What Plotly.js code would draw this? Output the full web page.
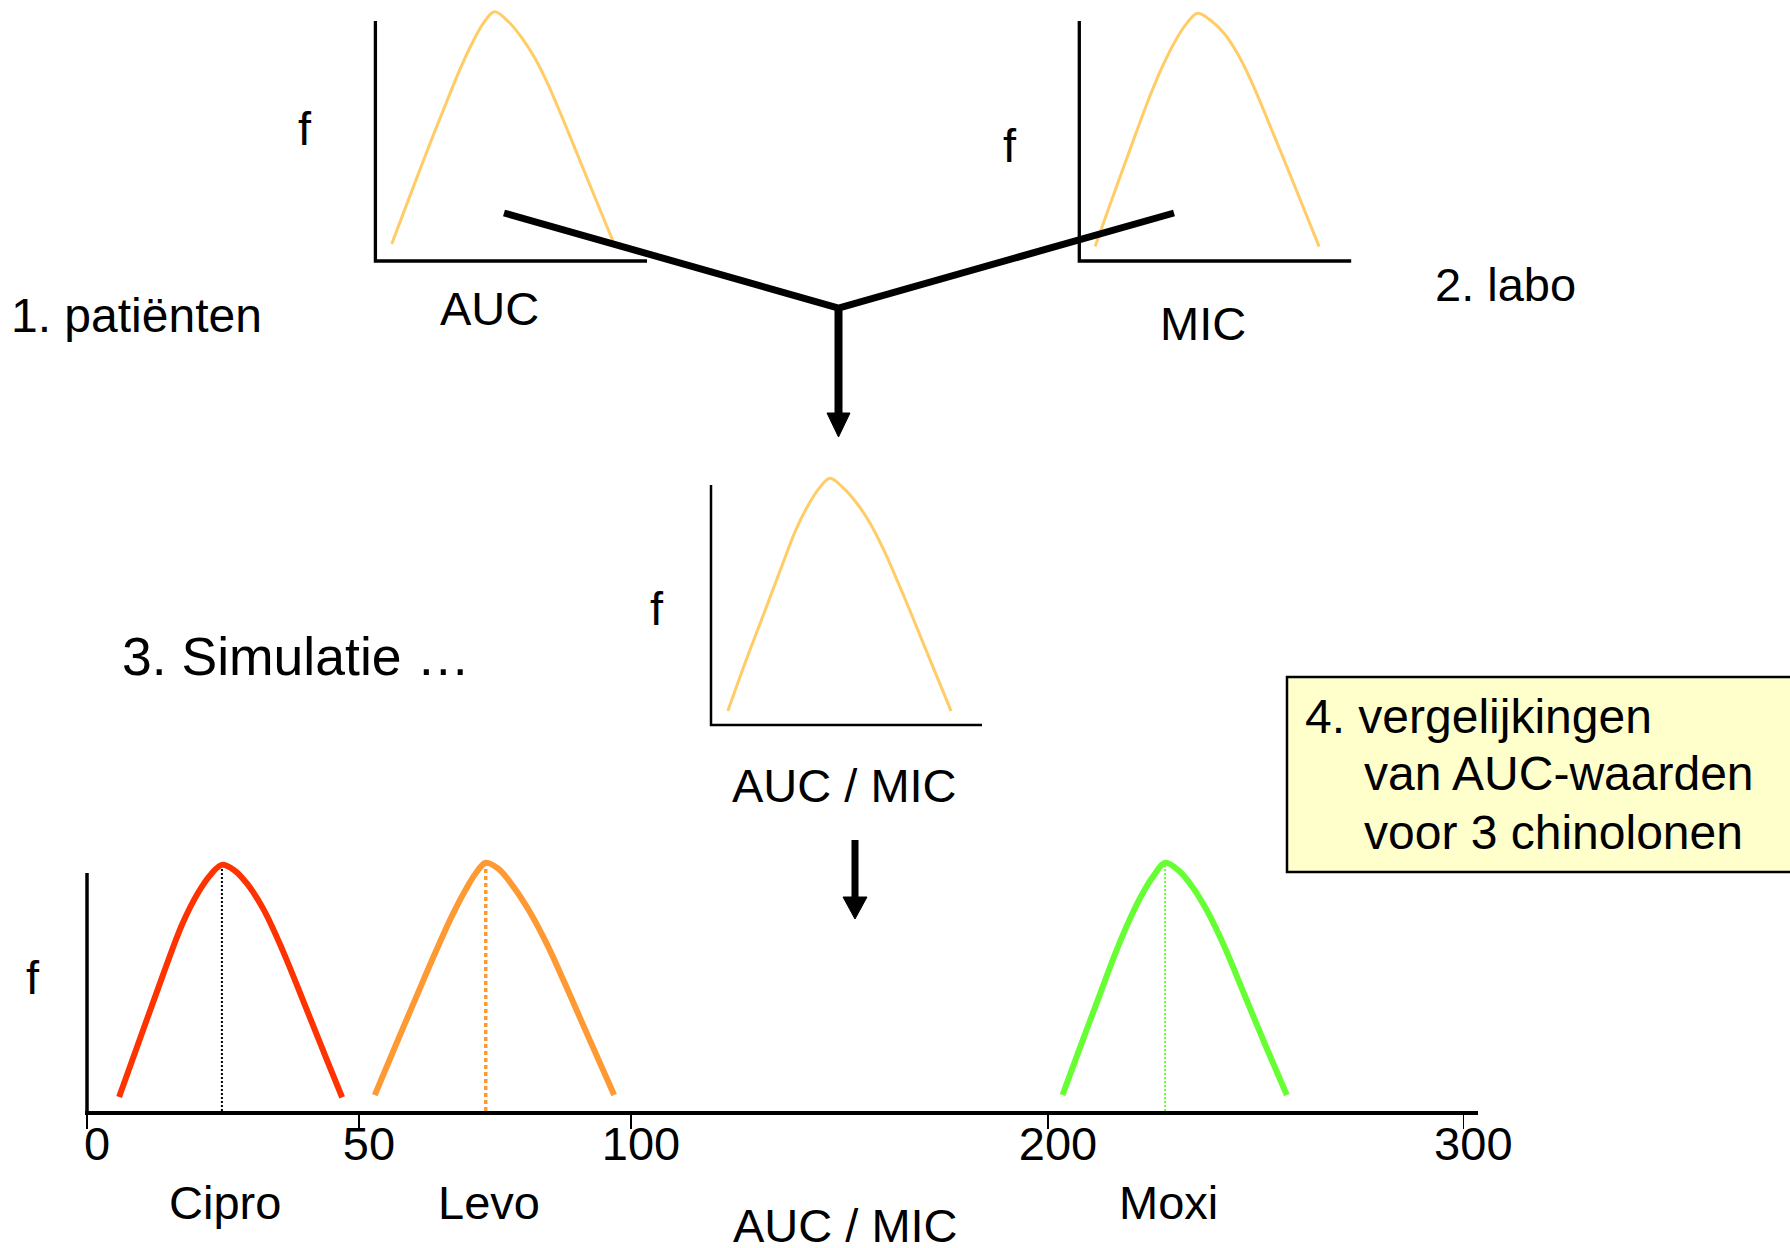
<!DOCTYPE html>
<html>
<head>
<meta charset="utf-8">
<script src="https://cdn.plot.ly/plotly-3.0.1.min.js"></script>
<style>
html,body{margin:0;padding:0;background:#ffffff;}
#chart{width:1790px;height:1248px;}
</style>
</head>
<body>
<div id="chart"></div>
<script>
// ================= DATA =================
// 1. patiënten : AUC distribution (arbitrary AUC units, f in % of axis height)
const AUC_X = [6.0, 12.5, 19.5, 26.5, 31.0, 35.5, 39.7, 43.8, 48.9, 53.8, 58.8, 63.1, 71.2, 78.7, 87.9];
const AUC_F = [7.1, 26.5, 47.2, 67.1, 79.5, 90.5, 99.0, 103.9, 99.8, 93.2, 84.4, 74.7, 53.2, 32.4, 7.1];
// 2. labo : MIC distribution
const MIC_X = [5.8, 11.9, 18.6, 25.4, 30.5, 35.5, 39.5, 43.5, 48.7, 53.6, 58.5, 63.4, 71.3, 78.8, 88.2];
const MIC_F = [6.0, 25.4, 46.3, 67.1, 80.9, 92.1, 99.0, 103.2, 99.9, 94.4, 85.8, 74.5, 53.2, 32.4, 6.0];
// 3. Simulatie : AUC/MIC distribution
const SIM_X = [6.2, 12.3, 19.3, 26.0, 31.0, 35.9, 39.9, 43.9, 48.8, 53.8, 58.7, 63.6, 71.5, 79.1, 88.6];
const SIM_F = [5.8, 25.0, 45.8, 65.8, 80.5, 91.7, 98.6, 102.8, 98.8, 92.4, 84.1, 73.3, 52.8, 31.9, 5.8];
// 4. vergelijkingen : AUC/MIC per chinolone
const DRUGS   = ['Cipro', 'Levo', 'Moxi'];
const CIPRO_X = [5.9, 10.0, 14.0, 17.5, 20.5, 22.8, 24.8, 27.0, 29.5, 32.5, 36.0, 40.0, 44.0, 46.9];
const CIPRO_F = [5.9, 32.0, 57.4, 78.5, 92.0, 99.5, 103.4, 101.3, 95.3, 84.5, 67.3, 44.8, 22.0, 5.7];
const LEVO_X  = [52.9, 57.0, 61.0, 64.5, 67.2, 69.6, 71.5, 73.3, 75.6, 78.3, 81.3, 84.5, 88.0, 92.0, 96.9];
const LEVO_F  = [6.7, 29.0, 50.5, 69.0, 82.5, 93.0, 100.0, 104.3, 101.8, 94.5, 84.0, 70.3, 52.8, 32.0, 6.7];
const MOXI_X  = [203.5, 208.0, 212.5, 216.5, 219.8, 222.8, 225.5, 228.2, 231.5, 235.0, 238.5, 242.5, 247.5, 252.5, 257.5];
const MOXI_F  = [6.7, 28.0, 49.0, 67.5, 81.0, 91.5, 99.0, 104.3, 101.0, 93.6, 83.5, 69.0, 48.0, 27.0, 6.7];
const TICK_VALUES = [0, 50, 100, 200, 300];
const TICK_LABELS = ['0', '50', '100', '200', '300'];
const BOX_LINES = ['4. vergelijkingen', 'van AUC-waarden', 'voor 3 chinolonen'];

// ================= LAYOUT / STYLE =================
const W = 1790, H = 1248;
const FONT = 'Liberation Sans, Arial, Helvetica, sans-serif';
const C_PALE = '#FFCC66';
const C_DRUG = ['#FF3300', '#FF9933', '#66FF33'];
const C_MARK = ['#000000', '#FF9933', '#66FF33'];
const MARK_DASH = ['2px,2px', '4px,3px', '2px,2px'];
const MARK_W = [2, 3.5, 2];

// broken AUC/MIC axis of the bottom panel: value -> axis position
const SCALE_V = [0, 100, 200, 300];
const SCALE_P = [0, 100, 176.65, 253.0];
function toPos(v) {
  for (let i = 0; i < SCALE_V.length - 1; i++) {
    if (v <= SCALE_V[i + 1] || i === SCALE_V.length - 2) {
      const t = (v - SCALE_V[i]) / (SCALE_V[i + 1] - SCALE_V[i]);
      return SCALE_P[i] + t * (SCALE_P[i + 1] - SCALE_P[i]);
    }
  }
}

// panel placement: origin pixel, pixels per unit, ranges
const PANELS = [
  {ox: 375.4, oy: 261, sx: 2.716, sy: 2.4, xr: [-2, 102], yr: [-2, 108], lw: 3.3},
  {ox: 1079.3, oy: 261, sx: 2.719, sy: 2.4, xr: [-2, 102], yr: [-2, 108], lw: 3.3},
  {ox: 711, oy: 725, sx: 2.71, sy: 2.4, xr: [-2, 102], yr: [-2, 108], lw: 2.5},
  {ox: 87, oy: 1111, sx: 5.44, sy: 2.38, xr: [-0.4, 255.7], yr: [0, 108], lw: 3.5}
];
function xdom(p) { return [(p.ox + p.xr[0] * p.sx) / W, (p.ox + p.xr[1] * p.sx) / W]; }
function ydom(p) { return [1 - (p.oy - p.yr[0] * p.sy) / H, 1 - (p.oy - p.yr[1] * p.sy) / H]; }
const PX = x => x / W;
const PY = y => 1 - y / H;

// ================= TRACES =================
const traces = [];
function curve(x, y, axisIdx, color, width) {
  const s = axisIdx === 1 ? '' : String(axisIdx);
  traces.push({
    type: 'scatter', mode: 'lines', x: x, y: y, xaxis: 'x' + s, yaxis: 'y' + s,
    line: {color: color, width: width, shape: 'spline', smoothing: 1},
    hoverinfo: 'skip', showlegend: false
  });
}
curve(AUC_X, AUC_F, 1, C_PALE, 3);
curve(MIC_X, MIC_F, 2, C_PALE, 3);
curve(SIM_X, SIM_F, 3, C_PALE, 3);

const DRUG_X = [CIPRO_X, LEVO_X, MOXI_X];
const DRUG_F = [CIPRO_F, LEVO_F, MOXI_F];
const peaks = [];
DRUGS.forEach((d, i) => {
  const fx = DRUG_F[i];
  const k = fx.indexOf(Math.max.apply(null, fx));
  peaks.push({x: DRUG_X[i][k], f: fx[k]});
  // median marker line
  traces.push({
    type: 'scatter', mode: 'lines', x: [toPos(DRUG_X[i][k]), toPos(DRUG_X[i][k])], y: [0, fx[k]],
    xaxis: 'x4', yaxis: 'y4', line: {color: C_MARK[i], width: MARK_W[i], dash: MARK_DASH[i]},
    hoverinfo: 'skip', showlegend: false
  });
});
DRUGS.forEach((d, i) => {
  curve(DRUG_X[i].map(toPos), DRUG_F[i], 4, C_DRUG[i], 6);
});

// ================= SHAPES =================
const shapes = [];
// axis lines of the three small panels
[1, 2, 3].forEach((n, i) => {
  const s = n === 1 ? '' : String(n);
  shapes.push({type: 'path', xref: 'x' + s, yref: 'y' + s, path: 'M 0 100 L 0 0 L 100 0',
    line: {color: '#000', width: PANELS[i].lw}, layer: 'above'});
});
// y axis line of the bottom panel
shapes.push({type: 'line', xref: 'x4', yref: 'y4', x0: 0, x1: 0, y0: 0, y1: 100,
  line: {color: '#000', width: PANELS[3].lw}});

function ppath(pts, close) {
  return pts.map((p, i) => (i ? 'L ' : 'M ') + PX(p[0]) + ' ' + PY(p[1])).join(' ') + (close ? ' Z' : '');
}
// Y-shaped connector and first arrow
shapes.push({type: 'path', xref: 'paper', yref: 'paper', path: ppath([[504, 213], [838.5, 308], [1174, 213]]),
  line: {color: '#000', width: 7}});
shapes.push({type: 'line', xref: 'paper', yref: 'paper', x0: PX(838.5), x1: PX(838.5), y0: PY(306), y1: PY(416),
  line: {color: '#000', width: 8}});
shapes.push({type: 'path', xref: 'paper', yref: 'paper', path: ppath([[827, 413], [850, 413], [838.5, 437]], true),
  fillcolor: '#000', line: {color: '#000', width: 1}});
// second arrow
shapes.push({type: 'line', xref: 'paper', yref: 'paper', x0: PX(855), x1: PX(855), y0: PY(840), y1: PY(899),
  line: {color: '#000', width: 7}});
shapes.push({type: 'path', xref: 'paper', yref: 'paper', path: ppath([[843, 897], [867, 897], [855, 919]], true),
  fillcolor: '#000', line: {color: '#000', width: 1}});
// note box
shapes.push({type: 'rect', xref: 'paper', yref: 'paper', x0: PX(1287), x1: PX(1805), y0: PY(872), y1: PY(677),
  fillcolor: '#FFFFCC', line: {color: '#000', width: 2.5}, layer: 'below'});

// ================= ANNOTATIONS =================
const ann = [];
function label(t, x, y, anchor, size) {
  ann.push({text: t, x: PX(x), y: PY(y), xref: 'paper', yref: 'paper', showarrow: false,
    xanchor: anchor || 'center', yanchor: 'middle', font: {family: FONT, size: size || 47, color: '#000'}});
}
label('f', 305, 129);
label('AUC', 489, 308);
label('1. patiënten', 9, 315.5, 'left', 48);
label('f', 1009.6, 145);
label('MIC', 1203, 324);
label('2. labo', 1433, 285, 'left');
label('f', 657, 608);
label('3. Simulatie …', 120, 656, 'left', 53.5);
label('AUC / MIC', 844.5, 785);
label(BOX_LINES[0], 1303, 716.5, 'left', 48);
label(BOX_LINES[1], 1362, 773, 'left', 48);
label(BOX_LINES[2], 1362, 832.5, 'left', 48);
label('f', 33, 977);
label('AUC / MIC', 845, 1225);
DRUGS.forEach((d, i) => {
  ann.push({text: d, x: toPos(peaks[i].x), y: PY(1202), xref: 'x4', yref: 'paper', showarrow: false,
    xanchor: 'center', yanchor: 'middle', xshift: 3, font: {family: FONT, size: 47, color: '#000'}});
});

// ================= AXES =================
const hidden = (p, isX) => ({domain: isX ? xdom(p) : ydom(p), range: isX ? p.xr : p.yr, visible: false, fixedrange: true});
const layout = {
  width: W, height: H, margin: {l: 0, r: 0, t: 0, b: 0},
  paper_bgcolor: '#ffffff', plot_bgcolor: 'rgba(0,0,0,0)', showlegend: false,
  font: {family: FONT, color: '#000'},
  xaxis: Object.assign(hidden(PANELS[0], true), {anchor: 'y'}),
  yaxis: Object.assign(hidden(PANELS[0], false), {anchor: 'x'}),
  xaxis2: Object.assign(hidden(PANELS[1], true), {anchor: 'y2'}),
  yaxis2: Object.assign(hidden(PANELS[1], false), {anchor: 'x2'}),
  xaxis3: Object.assign(hidden(PANELS[2], true), {anchor: 'y3'}),
  yaxis3: Object.assign(hidden(PANELS[2], false), {anchor: 'x3'}),
  xaxis4: {
    domain: xdom(PANELS[3]), range: PANELS[3].xr, anchor: 'y4', fixedrange: true,
    showgrid: false, zeroline: false, showline: true, linecolor: '#000', linewidth: 3.5,
    ticks: 'outside', ticklen: 14, tickwidth: 1.5, tickcolor: '#000',
    tickmode: 'array', tickvals: TICK_VALUES.map(toPos), ticktext: TICK_LABELS,
    tickfont: {family: FONT, size: 47, color: '#000'}, ticklabelshift: 10, ticklabelstandoff: -25
  },
  yaxis4: Object.assign(hidden(PANELS[3], false), {anchor: 'x4'}),
  shapes: shapes,
  annotations: ann
};

Plotly.newPlot('chart', traces, layout, {staticPlot: true, displayModeBar: false});
</script>
</body>
</html>
